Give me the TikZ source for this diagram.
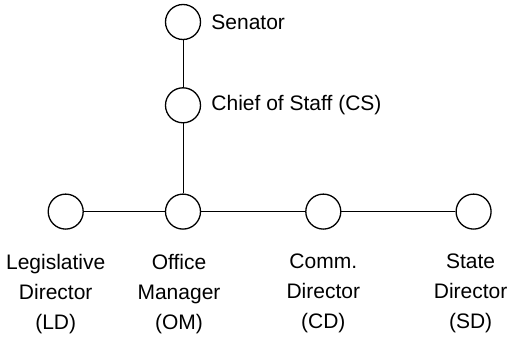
\documentclass[tikz,border=0pt]{standalone}
\usepackage{fontspec}
\setmainfont{Liberation Sans}
\usetikzlibrary{positioning}

\begin{document}
\begin{tikzpicture}
            [x=1pt, y=-1pt, semithick, node distance=24pt,
            person/.style={circle, draw=black, line width=1.3pt, minimum size=35pt, inner sep=0pt},
            title/.style={align=center, inner sep=0pt, font=\fontsize{21}{30}\selectfont}]

            \useasboundingbox (0,0) rectangle (507,343);

            \node[person] (sen) at (183,22) {};
            \node[person] (cs) [below = 47pt of sen] {};
            \node[person] (om) [below = 70pt of cs] {};
            \node[person] (ld) [left = 81pt of om] {};
            \node[person] (cd) [right = 104pt of om] {};
            \node[person] (sd) [right = 114pt of cd] {};

            \node[title, anchor=west] (sent) [right = 10pt of sen] {Senator};
            \node[title, anchor=west] (cst) [right = 10pt of cs] {Chief of Staff (CS)};
            \node[title] (ldt) [below = of ld, xshift=-10pt] {Legislative\\Director\\(LD)};
            \node[title] (omt) [below = of om, xshift=-4pt] {Office\\Manager\\(OM)};
            \node[title] (cdt) [below = of cd] {Comm.\\Director\\(CD)};
            \node[title] (sdt) [below = of sd, xshift=-3pt] {State\\Director\\(SD)};

            \draw (sen) edge (cs);
            \draw (cs) edge (om);
            \draw (ld) edge (om);
            \draw (om) edge (cd);
            \draw (cd) edge (sd);
        \end{tikzpicture}
\end{document}
